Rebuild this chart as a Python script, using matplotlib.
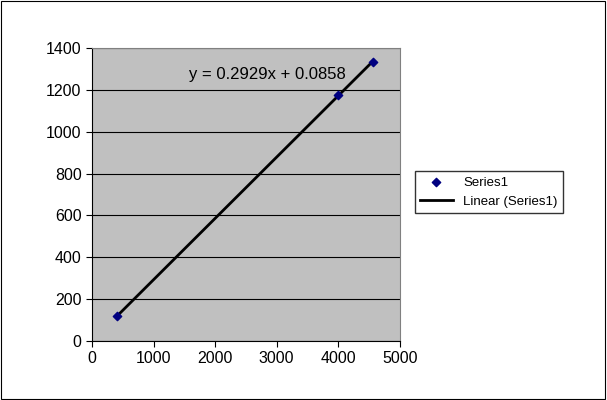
import numpy as np
import matplotlib.pyplot as plt
from matplotlib.patches import Rectangle

plt.rcParams["font.family"] = ["Liberation Sans", "DejaVu Sans"]

# data points
x_vals = [410, 4000, 4560]
y_vals = [120, 1175, 1335]
slope = 0.2929
intercept = 0.0858
x_ticks = [0, 1000, 2000, 3000, 4000, 5000]
y_ticks = [0, 200, 400, 600, 800, 1000, 1200, 1400]

fig = plt.figure(figsize=(6.07, 4.0), dpi=100)
fig.patches.append(Rectangle((0.002, 0.003), 0.995, 0.994, transform=fig.transFigure,
                             fill=False, edgecolor="black", linewidth=0.8))
ax = fig.add_axes([0.1516, 0.1475, 0.507, 0.7325])
ax.set_facecolor("#c0c0c0")
ax.set_xlim(0, 5000)
ax.set_ylim(0, 1400)
ax.set_xticks(x_ticks)
ax.set_yticks(y_ticks)
ax.tick_params(labelsize=11.5, direction="out", length=4)
ax.yaxis.grid(True, color="black", linewidth=0.8)
ax.set_axisbelow(True)
for s in ["top", "right"]:
    ax.spines[s].set_color("#808080")

# trendline across the data range
xl = np.array([min(x_vals), max(x_vals)])
ax.plot(xl, slope * xl + intercept, color="black", linewidth=2, label="Linear (Series1)", zorder=2)
ax.scatter(x_vals, y_vals, marker="D", s=18, color="#000080", label="Series1", zorder=3)
ax.text(2850, 1271, f"y = {slope}x + {intercept}", ha="center", va="center", fontsize=12)

h, l = ax.get_legend_handles_labels()
fig.legend([h[1], h[0]], [l[1], l[0]], loc="center left", bbox_to_anchor=(0.672, 0.52),
           frameon=True, fancybox=False, edgecolor="black", fontsize=9.5,
           handlelength=2.5)

plt.savefig("out.png", dpi=100)
